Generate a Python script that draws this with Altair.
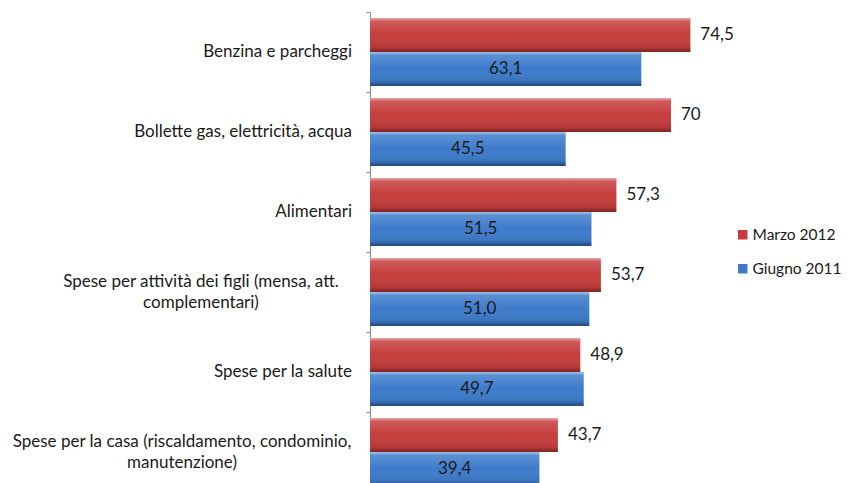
import altair as alt
import pandas as pd

categories = [
    "Benzina e parcheggi",
    "Bollette gas, elettricità, acqua",
    "Alimentari",
    "Spese per attività dei figli (mensa, att.\ncomplementari)",
    "Spese per la salute",
    "Spese per la casa (riscaldamento, condominio,\nmanutenzione)",
]
series = ["Marzo 2012", "Giugno 2011"]
marzo_2012 = [74.5, 70.0, 57.3, 53.7, 48.9, 43.7]
giugno_2011 = [63.1, 45.5, 51.5, 51.0, 49.7, 39.4]
marzo_labels = ["74,5", "70", "57,3", "53,7", "48,9", "43,7"]
giugno_labels = ["63,1", "45,5", "51,5", "51,0", "49,7", "39,4"]

rows = []
for i, c in enumerate(categories):
    rows.append({"categoria": c, "serie": series[0], "valore": marzo_2012[i], "etichetta": marzo_labels[i]})
    rows.append({"categoria": c, "serie": series[1], "valore": giugno_2011[i], "etichetta": giugno_labels[i]})
df = pd.DataFrame(rows)
cat_df = pd.DataFrame({"categoria": categories})

FONT = "Lato"
FS = 17
TXT = "#1a1a1a"

y_enc = alt.Y(
    "categoria:N",
    sort=categories,
    scale=alt.Scale(paddingInner=0, paddingOuter=0),
    axis=alt.Axis(
        title=None,
        labels=False,
        tickBand="extent",
        tickSize=4,
        tickColor="#8a8a8a",
        domainColor="#8a8a8a",
    ),
)
yoff = alt.YOffset("serie:N", sort=series,
                   scale=alt.Scale(paddingOuter=0.18, paddingInner=0))
x_scale = alt.Scale(domain=[0, 80], nice=False, zero=True)

base = alt.Chart(df).encode(y=y_enc, yOffset=yoff)

bars = base.mark_bar().encode(
    x=alt.X("valore:Q", scale=x_scale, axis=None),
    color=alt.Color(
        "serie:N",
        scale=alt.Scale(domain=series, range=["#C63D3D", "#3E7CCB"]),
        legend=alt.Legend(
            title=None,
            orient="none",
            legendX=365,
            legendY=215,
            symbolType="square",
            symbolSize=90,
            symbolStrokeWidth=0,
            labelFont=FONT,
            labelFontSize=15.5,
            labelColor=TXT,
            labelLimit=200,
            rowPadding=17,
            labelOffset=2,
            padding=0,
        ),
    ),
)

shine = base.mark_bar(
    color=alt.Gradient(
        gradient="linear",
        x1=0, x2=0, y1=0, y2=1,
        stops=[
            alt.GradientStop(color="rgba(255,255,255,0.55)", offset=0),
            alt.GradientStop(color="rgba(255,255,255,0.15)", offset=0.1),
            alt.GradientStop(color="rgba(255,255,255,0)", offset=0.5),
            alt.GradientStop(color="rgba(0,0,0,0.08)", offset=0.86),
            alt.GradientStop(color="rgba(0,0,0,0.4)", offset=1),
        ],
    )
).encode(x=alt.X("valore:Q", scale=x_scale, axis=None))

red_text = base.transform_filter(alt.datum.serie == series[0]).mark_text(
    align="left", baseline="middle", dx=10, font=FONT, fontSize=FS, color=TXT
).encode(x=alt.X("valore:Q", scale=x_scale, axis=None), text="etichetta:N")

blue_text = base.transform_filter(alt.datum.serie == series[1]).transform_calculate(
    meta="datum.valore / 2"
).mark_text(
    align="center", baseline="middle", font=FONT, fontSize=FS, color=TXT
).encode(x=alt.X("meta:Q", scale=x_scale, axis=None), text="etichetta:N")

# category labels (axis labels drawn as text so that wrapped lines are centred)
cat_base = alt.Chart(cat_df).encode(y=y_enc, text="categoria:N")
lab_single = cat_base.transform_filter(
    "indexof(datum.categoria, '\\n') < 0"
).mark_text(align="right", baseline="middle", dx=-18, font=FONT, fontSize=FS, color=TXT
).encode(x=alt.value(0))
lab_multi_a = cat_base.transform_filter(
    alt.datum.categoria == categories[3]
).mark_text(align="center", baseline="middle", dy=-10.5, lineBreak="\n", lineHeight=21,
            font=FONT, fontSize=FS, color=TXT
).encode(x=alt.value(-169))
lab_multi_b = cat_base.transform_filter(
    alt.datum.categoria == categories[5]
).mark_text(align="center", baseline="middle", dy=-10.5, lineBreak="\n", lineHeight=21,
            font=FONT, fontSize=FS, color=TXT
).encode(x=alt.value(-188))

chart = alt.layer(
    bars, shine, red_text, blue_text, lab_single, lab_multi_a, lab_multi_b
).properties(
    width=344,
    height=480,
    autosize=alt.AutoSizeParams(type="none"),
    padding={"left": 362, "top": 4, "right": 130, "bottom": 0},
    background="white",
).configure_view(stroke=None)

chart.save("out.html", embed_options={"renderer": "svg", "actions": False})
